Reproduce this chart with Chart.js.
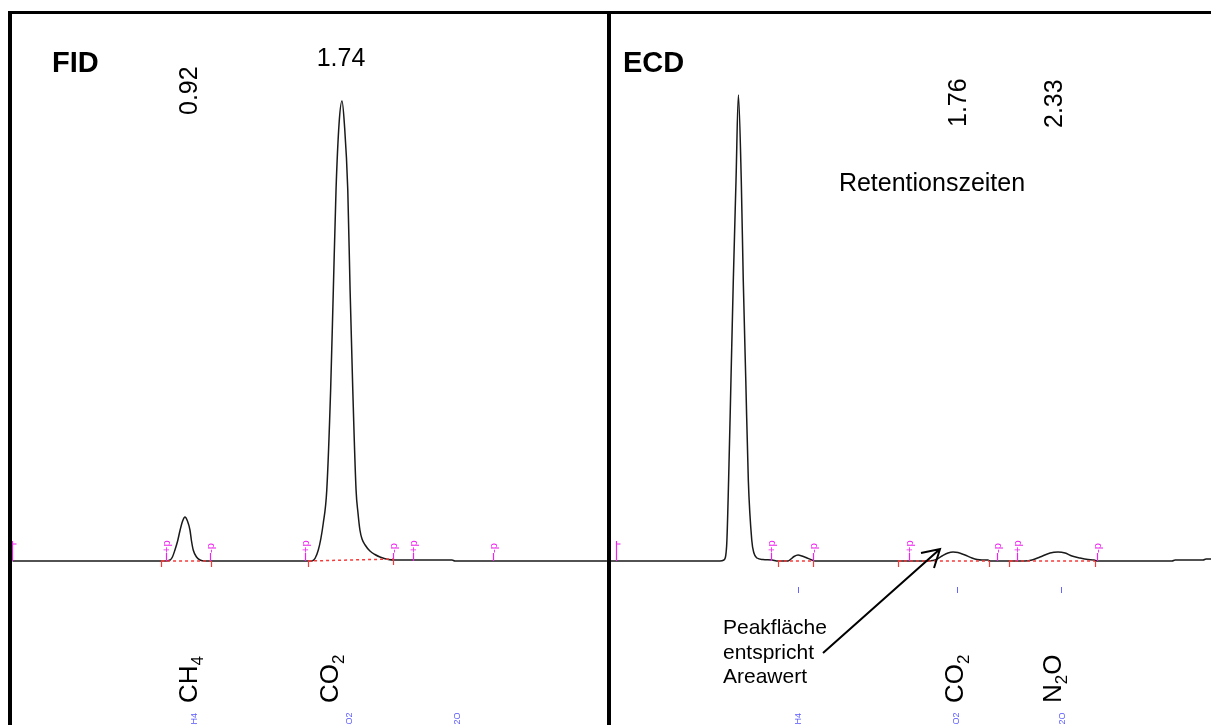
<!DOCTYPE html>
<html>
<head>
<meta charset="utf-8">
<script src="https://cdn.jsdelivr.net/npm/chart.js@4.4.1/dist/chart.umd.min.js"></script>
<style>
  body { margin: 0; background: #fff; width: 1211px; height: 725px; overflow: hidden; position: relative; }
  canvas { position: absolute; top: 14px; }
  #fid { left: 12px; }
  #ecd { left: 611px; }
  .rule { position: absolute; background: #000; }
</style>
</head>
<body>
<div class="rule" style="left:8px;top:11px;width:1203px;height:3px"></div>
<div class="rule" style="left:8px;top:11px;width:4px;height:714px"></div>
<div class="rule" style="left:607px;top:11px;width:4px;height:714px"></div>
<canvas id="fid" width="595" height="711"></canvas>
<canvas id="ecd" width="600" height="711"></canvas>
<script>
// retention time (min) and detector signal
const fidTime = [0.03, 0.822, 0.848, 0.860, 0.873, 0.887, 0.900, 0.913, 0.925, 0.938, 0.951, 0.959, 0.968, 0.985, 1.003, 1.029,
  1.522, 1.583, 1.617, 1.643, 1.661, 1.681, 1.695, 1.709, 1.725, 1.740, 1.752, 1.770, 1.782, 1.796, 1.813, 1.823, 1.833, 1.844, 1.860,
  1.885, 1.911, 1.937, 1.980, 2.015, 2.311, 2.326, 3.115];
const fidSignal = [0, 0, 1, 4, 11, 20, 31, 40, 44, 40, 31, 20, 11, 4, 1, 0,
  0, 0, 11, 38, 71, 171, 271, 371, 438, 460, 438, 371, 271, 171, 71, 48, 31, 22, 16,
  10, 6.5, 4, 1.5, 1, 1, 0, 0];

const ecdTime = [-0.144, 0.459, 0.481, 0.496, 0.507, 0.520, 0.533, 0.548, 0.561, 0.577, 0.588, 0.602, 0.616, 0.635, 0.647, 0.664, 0.697, 0.747, 0.780,
  0.836, 0.852, 0.869, 0.891, 0.913, 0.935, 0.968, 0.985,
  1.594, 1.649, 1.688, 1.721, 1.749, 1.776, 1.815, 1.854, 1.882, 1.909, 1.942, 1.954,
  2.147, 2.186, 2.230, 2.286, 2.330, 2.369, 2.407, 2.452, 2.496, 2.529, 2.546,
  2.961, 2.978, 3.133, 3.149, 3.177];
const ecdSignal = [0, 0, 1, 15, 81, 181, 281, 381, 466, 381, 281, 181, 81, 21, 8, 3, 1.5, 1, 0,
  0, 2, 4.5, 6, 5, 3.5, 1, 0,
  0, 1, 5, 8, 9, 8.5, 6, 3, 1.5, 1, 1, 0,
  0, 1, 4, 8, 9, 8, 5, 3, 1.5, 1, 0,
  0, 1, 1, 2, 2];

const fidRetention = [0.92, 1.74];
const ecdRetention = [1.76, 2.33];
const fidCompounds = ['CH4', 'CO2', 'N2O'];
const ecdCompounds = ['CH4', 'CO2', 'N2O'];

// peak start/end markers
const fidMarkTime = [0.028, 0.827, 1.055, 1.548, 2.005, 2.108, 2.524];
const fidMarkSign = ['', '+', '-', '+', '-', '+', '-'];
const ecdMarkTime = [-0.116, 0.742, 0.974, 1.505, 1.992, 2.103, 2.546];
const ecdMarkSign = ['', '+', '-', '+', '-', '+', '-'];

// integration baselines
const fidBaseFrom = [0.801, 1.564];
const fidBaseTo = [1.060, 2.005];
const fidBaseEnd = [0, 2];
const ecdBaseFrom = [0.780, 1.444, 2.059];
const ecdBaseTo = [0.974, 1.948, 2.535];
const ecdBaseEnd = [0, 0, 0];
const ecdTickTime = [0.891, 1.771, 2.346];

const SANS = '"Liberation Sans", Arial, sans-serif';
const MAGENTA = '#ee22ee';
const RED = '#f53a3a';

function vText(ctx, x, y, parts, color) {
  ctx.save();
  ctx.translate(x, y);
  ctx.rotate(-Math.PI / 2);
  ctx.fillStyle = color || '#000';
  ctx.textAlign = 'left';
  ctx.textBaseline = 'alphabetic';
  let pos = 0;
  parts.forEach(p => {
    ctx.font = p[1];
    ctx.fillText(p[0], pos, p[2] || 0);
    pos += ctx.measureText(p[0]).width;
  });
  ctx.restore();
}

function formula(str, size) {
  return str.split(/(\d)/).filter(s => s).map(s =>
    /\d/.test(s) ? [s, Math.round(size * 0.65) + 'px ' + SANS, size * 0.22] : [s, size + 'px ' + SANS, 0]);
}

function drawMarkers(ctx, xs, base, times, signs) {
  ctx.save();
  ctx.strokeStyle = MAGENTA;
  ctx.lineWidth = 1.2;
  times.forEach((t, i) => {
    const px = Math.round(xs.getPixelForValue(t)) + 0.5;
    ctx.beginPath();
    if (signs[i] === '') {
      ctx.moveTo(px, base); ctx.lineTo(px, base - 20);
      ctx.moveTo(px, base - 17); ctx.lineTo(px + 4, base - 17);
      ctx.stroke();
    } else {
      ctx.moveTo(px, base); ctx.lineTo(px, base - 8);
      ctx.stroke();
      vText(ctx, px + 3, base - 8, [[signs[i] + 'p', '11px ' + SANS]], MAGENTA);
    }
  });
  ctx.restore();
}

function drawBaseTicks(ctx, xs, ys, from, to, end) {
  ctx.save();
  ctx.strokeStyle = RED;
  ctx.lineWidth = 1.2;
  from.forEach((t, i) => {
    const a = Math.round(xs.getPixelForValue(t)) + 0.5;
    const b = Math.round(xs.getPixelForValue(to[i])) + 0.5;
    const ya = ys.getPixelForValue(0), yb = ys.getPixelForValue(end[i]);
    ctx.beginPath();
    ctx.moveTo(a, ya); ctx.lineTo(a, ya + 6);
    ctx.moveTo(a, ya); ctx.lineTo(a + 4, ya);
    ctx.moveTo(b, yb); ctx.lineTo(b, yb + 6);
    ctx.stroke();
  });
  ctx.restore();
}

function blueNames(ctx, xs, names) {
  names.forEach((n, i) => vText(ctx, xs[i], 731 - 14, [[n, '9px ' + SANS]], '#5a5aff'));
}

function fidDecor(chart) {
  const ctx = chart.ctx, xs = chart.scales.x, ys = chart.scales.y;
  const ox = 12, oy = 14;
  drawMarkers(ctx, xs, ys.getPixelForValue(0), fidMarkTime, fidMarkSign);
  drawBaseTicks(ctx, xs, ys, fidBaseFrom, fidBaseTo, fidBaseEnd);
  ctx.save();
  ctx.fillStyle = '#000';
  ctx.font = 'bold 29px ' + SANS;
  ctx.fillText('FID', 52 - ox, 72 - oy);
  vText(ctx, 197 - ox, 115 - oy, [[fidRetention[0].toFixed(2), '25px ' + SANS]]);
  ctx.font = '25px ' + SANS;
  ctx.textAlign = 'center';
  ctx.fillText(fidRetention[1].toFixed(2), 341 - ox, 66 - oy);
  vText(ctx, 197 - ox, 703 - oy, formula(fidCompounds[0], 26));
  vText(ctx, 338 - ox, 703 - oy, formula(fidCompounds[1], 26));
  blueNames(ctx, [197 - ox, 352 - ox, 460 - ox], fidCompounds);
  ctx.restore();
}

function ecdDecor(chart) {
  const ctx = chart.ctx, xs = chart.scales.x, ys = chart.scales.y;
  const ox = 611, oy = 14;
  drawMarkers(ctx, xs, ys.getPixelForValue(0), ecdMarkTime, ecdMarkSign);
  drawBaseTicks(ctx, xs, ys, ecdBaseFrom, ecdBaseTo, ecdBaseEnd);
  ctx.save();
  ctx.strokeStyle = '#6464ff';
  ctx.lineWidth = 1;
  ecdTickTime.forEach(t => {
    const px = Math.round(xs.getPixelForValue(t)) + 0.5;
    ctx.beginPath(); ctx.moveTo(px, 587 - oy); ctx.lineTo(px, 593 - oy); ctx.stroke();
  });
  ctx.fillStyle = '#000';
  ctx.font = 'bold 29px ' + SANS;
  ctx.fillText('ECD', 623 - ox, 72 - oy);
  vText(ctx, 966 - ox, 127 - oy, [[ecdRetention[0].toFixed(2), '25px ' + SANS]]);
  vText(ctx, 1062 - ox, 128 - oy, [[ecdRetention[1].toFixed(2), '25px ' + SANS]]);
  ctx.font = '25px ' + SANS;
  ctx.textAlign = 'center';
  ctx.fillText('Retentionszeiten', 932 - ox, 191 - oy);
  ctx.textAlign = 'left';
  ctx.font = '21px ' + SANS;
  ['Peakfläche', 'entspricht', 'Areawert'].forEach((s, i) => ctx.fillText(s, 723 - ox, 634 + i * 24.5 - oy));
  vText(ctx, 963 - ox, 703 - oy, formula(ecdCompounds[1], 26));
  vText(ctx, 1061 - ox, 703 - oy, formula(ecdCompounds[2], 26));
  blueNames(ctx, [801 - ox, 959 - ox, 1065 - ox], ecdCompounds);
  // arrow to the CO2 peak
  ctx.strokeStyle = '#000';
  ctx.lineWidth = 2;
  ctx.beginPath();
  ctx.moveTo(823 - ox, 653 - oy); ctx.lineTo(940 - ox, 549 - oy);
  ctx.moveTo(921 - ox, 553 - oy); ctx.lineTo(940 - ox, 549 - oy); ctx.lineTo(934 - ox, 568 - oy);
  ctx.stroke();
  ctx.restore();
}

function makeChart(id, time, signal, xmin, xmax, from, to, end, decorate) {
  const datasets = [{
    data: time.map((t, i) => ({ x: t, y: signal[i] })),
    borderColor: '#1a1a1a',
    borderWidth: 1.5,
    pointRadius: 0,
    cubicInterpolationMode: 'monotone',
    order: 2
  }];
  from.forEach((t, i) => datasets.push({
    data: [{ x: t, y: 0 }, { x: to[i], y: end[i] }],
    borderColor: RED,
    borderWidth: 1.5,
    borderDash: [3, 3],
    pointRadius: 0,
    order: 1
  }));
  return new Chart(document.getElementById(id), {
    type: 'line',
    data: { datasets: datasets },
    options: {
      responsive: false,
      animation: false,
      devicePixelRatio: 1,
      layout: { padding: 0 },
      plugins: { legend: { display: false }, tooltip: { enabled: false } },
      scales: {
        x: { type: 'linear', display: false, min: xmin, max: xmax },
        y: { display: false, min: -164, max: 547 }
      }
    },
    plugins: [{ id: 'decor', afterDatasetsDraw: decorate }]
  });
}

makeChart('fid', fidTime, fidSignal, 0.0275, 3.1152, fidBaseFrom, fidBaseTo, fidBaseEnd, fidDecor);
makeChart('ecd', ecdTime, ecdSignal, -0.1439, 3.1765, ecdBaseFrom, ecdBaseTo, ecdBaseEnd, ecdDecor);
</script>
</body>
</html>
